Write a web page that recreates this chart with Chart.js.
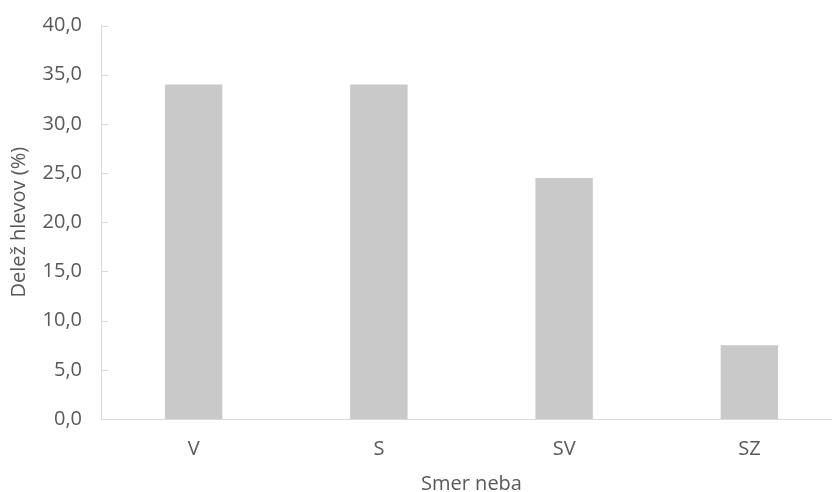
<!DOCTYPE html>
<html>
<head>
<meta charset="utf-8">
<script src="https://cdn.jsdelivr.net/npm/chart.js@4/dist/chart.umd.min.js"></script>
<style>
  html, body { margin: 0; padding: 0; background: #ffffff; overflow: hidden; }
  #wrap { width: 832px; height: 492px; overflow: hidden; }
  canvas { display: block; }
</style>
</head>
<body>
<div id="wrap"><canvas id="c" width="842" height="492"></canvas></div>
<script>
// Smer neba in delež hlevov
const categories = ['V', 'S', 'SV', 'SZ'];
const shares = [34.0, 34.0, 24.5, 7.5];
const yTicks = [0, 5, 10, 15, 20, 25, 30, 35, 40];

const FONT = "'Open Sans', sans-serif";
const FONT_SIZE = 20;
const TEXT = '#595959';
const AXIS = '#d9d9d9';

// short tick marks drawn inward from the value axis
const innerTicks = {
  id: 'innerTicks',
  afterDraw(chart) {
    const y = chart.scales.y;
    const ctx = chart.ctx;
    const x0 = chart.chartArea.left;
    ctx.save();
    ctx.strokeStyle = AXIS;
    ctx.lineWidth = 1;
    ctx.beginPath();
    yTicks.forEach(v => {
      const py = Math.round(y.getPixelForValue(v)) + 0.5;
      ctx.moveTo(x0, py);
      ctx.lineTo(x0 + 7, py);
    });
    ctx.stroke();
    ctx.restore();
  }
};

new Chart(document.getElementById('c'), {
  type: 'bar',
  data: {
    labels: categories,
    datasets: [{
      data: shares,
      backgroundColor: '#c9c9c9',
      borderWidth: 0,
      barPercentage: 0.62,
      categoryPercentage: 0.5
    }]
  },
  options: {
    responsive: false,
    animation: false,
    layout: { padding: { top: 25.5, left: 7, right: 0, bottom: 0 } },
    plugins: { legend: { display: false }, tooltip: { enabled: false } },
    scales: {
      x: {
        afterFit(scale) { scale.height = 73; },
        grid: { display: false, drawTicks: false, tickLength: 0 },
        border: { display: true, color: AXIS, width: 1 },
        ticks: { color: TEXT, font: { family: FONT, size: FONT_SIZE }, padding: 18 },
        title: {
          display: true, text: 'Smer neba', color: TEXT,
          font: { family: FONT, size: FONT_SIZE }, padding: { top: 0, bottom: -4 }
        }
      },
      y: {
        min: 0, max: 40,
        afterBuildTicks(scale) { scale.ticks = yTicks.map(v => ({ value: v })); },
        afterFit(scale) {
          scale.width = 94;
          scale.paddingTop = 0;
          scale.paddingBottom = 0;
        },
        grid: { display: false, drawTicks: false, tickLength: 0 },
        border: { display: true, color: AXIS, width: 1 },
        ticks: {
          color: TEXT, font: { family: FONT, size: FONT_SIZE }, padding: 19,
          callback: v => v.toFixed(1).replace('.', ',')
        },
        title: {
          display: true, text: 'Delež hlevov (%)', color: TEXT,
          font: { family: FONT, size: FONT_SIZE }, padding: { top: 0, bottom: 4 }
        }
      }
    }
  },
  plugins: [innerTicks]
});
</script>
</body>
</html>
